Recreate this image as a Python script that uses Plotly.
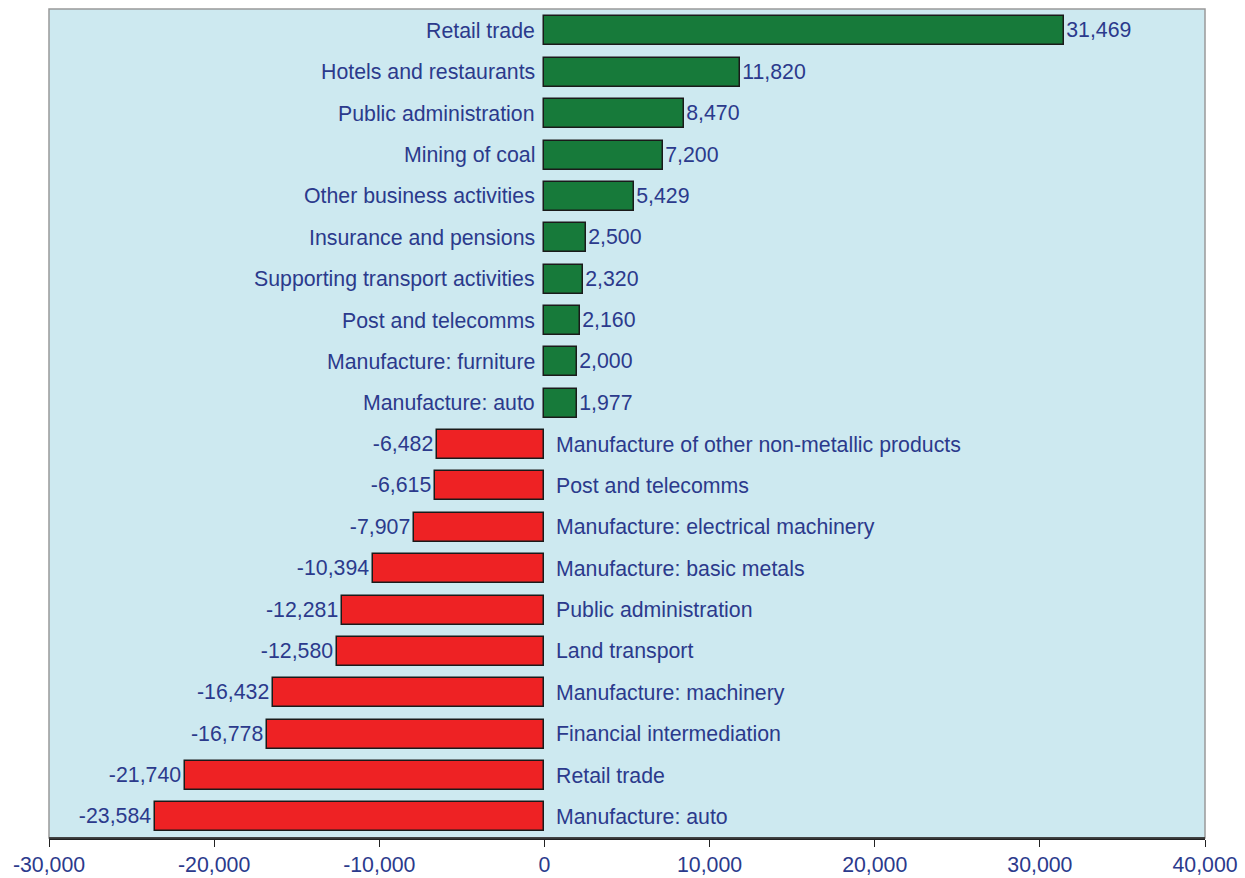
import plotly.graph_objects as go

categories = [
    "Retail trade", "Hotels and restaurants", "Public administration", "Mining of coal",
    "Other business activities", "Insurance and pensions", "Supporting transport activities",
    "Post and telecomms", "Manufacture: furniture", "Manufacture: auto",
    "Manufacture of other non-metallic products", "Post and telecomms",
    "Manufacture: electrical machinery", "Manufacture: basic metals", "Public administration",
    "Land transport", "Manufacture: machinery", "Financial intermediation", "Retail trade",
    "Manufacture: auto",
]
values = [31469, 11820, 8470, 7200, 5429, 2500, 2320, 2160, 2000, 1977,
          -6482, -6615, -7907, -10394, -12281, -12580, -16432, -16778, -21740, -23584]
tick_vals = [-30000, -20000, -10000, 0, 10000, 20000, 30000, 40000]

GREEN = "#177A3A"
RED = "#EE2224"
TXT = "#2B3A8C"
FONT = "Liberation Sans, Arial, sans-serif"
FS = 21.3

pos = list(range(len(categories)))
colors = [GREEN if v >= 0 else RED for v in values]
labels = [f"{v:,}" for v in values]

fig = go.Figure(go.Bar(
    x=values, y=pos, orientation="h",
    marker=dict(color=colors, line=dict(color="#1a1a1a", width=1.5)),
    width=0.70,
    text=labels, textposition="outside", cliponaxis=False,
    textfont=dict(color=TXT, size=FS, family=FONT),
    hoverinfo="skip",
))

annotations = []
for i, (c, v) in enumerate(zip(categories, values)):
    if v >= 0:
        annotations.append(dict(x=0, y=i, text=c, showarrow=False, xanchor="right",
                                xshift=-7, yanchor="middle"))
    else:
        annotations.append(dict(x=0, y=i, text=c, showarrow=False, xanchor="left",
                                xshift=10, yanchor="middle"))

fig.update_layout(
    width=1245, height=878,
    margin=dict(l=49, r=40, t=9, b=40, autoexpand=False),
    paper_bgcolor="white", plot_bgcolor="#CDE9F0",
    font=dict(family=FONT, size=FS, color=TXT),
    annotations=annotations,
    showlegend=False,
    bargap=0,
    uniformtext=dict(minsize=FS, mode="show"),
    xaxis=dict(range=[-30000, 40000], tickvals=tick_vals,
               ticktext=[f"{t:,}" for t in tick_vals], automargin=False,
               showgrid=False, zeroline=False, showline=True, linecolor="#222222",
               linewidth=1.5, ticks="outside", ticklen=7, tickcolor="#222222",
               tickfont=dict(size=FS, color=TXT, family=FONT), fixedrange=True),
    yaxis=dict(range=[19.51, -0.53], showticklabels=False, showgrid=False,
               automargin=False,
               zeroline=False, showline=False, fixedrange=True),
    shapes=[dict(type="rect", xref="paper", yref="paper", x0=0, x1=1, y0=0, y1=1,
                 line=dict(color="#999999", width=1.5), layer="above"),
            dict(type="line", xref="paper", yref="paper", x0=0, x1=1, y0=0, y1=0,
                 line=dict(color="#222222", width=1.5), layer="above")],
)

fig.write_html("out.html")
